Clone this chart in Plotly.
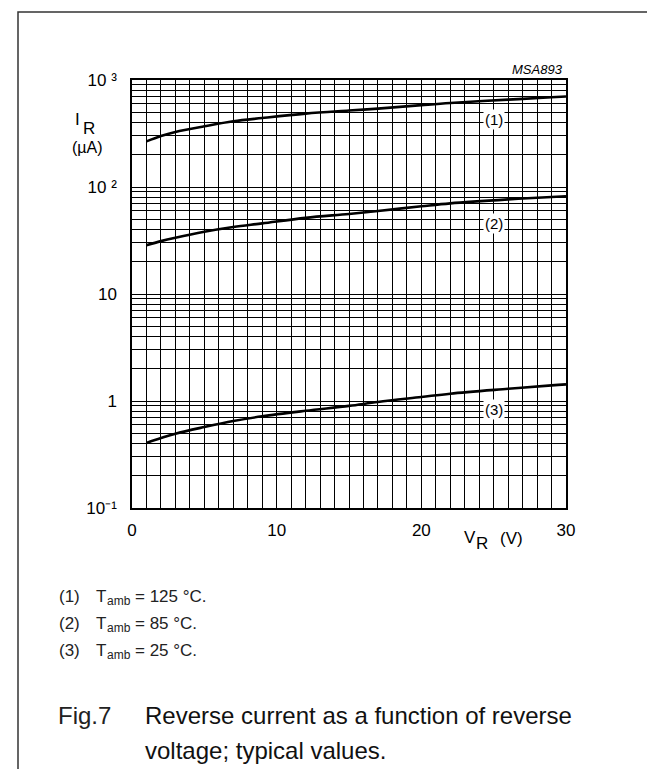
import plotly.graph_objects as go
import math

# ---- data ----
v_r = [1, 2, 3, 5, 7, 9, 12, 15, 17, 20, 22, 26, 29, 30]
i_125 = [267, 300, 327, 369, 411, 441, 485, 518, 540, 582, 610, 655, 689, 700]
i_85 = [28.5, 31.2, 33.6, 38.2, 42.3, 45.7, 51.5, 56, 59.7, 66, 70.3, 76.6, 80.7, 82]
i_25 = [0.405, 0.45, 0.495, 0.571, 0.65, 0.72, 0.81, 0.9, 0.98, 1.09, 1.17, 1.30, 1.40, 1.43]
curve_labels = ["(1)", "(2)", "(3)"]
label_x = [25, 25, 25]
label_y = [432, 45.7, 0.84]
y_tickvals = [0.1, 1, 10, 100, 1000]
y_ticktext = ["10⁻¹", "1", "10", "10 ²", "10 ³"]
x_tickvals = [0, 10, 20, 30]
legend_nums = ["(1)", "(2)", "(3)"]
legend_vals = ["= 125 °C.", "= 85 °C.", "= 25 °C."]

W, H = 655, 769
L, R, T, B = 124, 558, 72, 500
FONT = "Liberation Sans, Arial, sans-serif"


def px(x):
    return (x - L) / (R - L)


def py(y):
    return (B - y) / (B - T)


fig = go.Figure()
for ys in (i_125, i_85, i_25):
    fig.add_trace(go.Scatter(x=v_r, y=ys, mode="lines", line=dict(color="black", width=2.6, shape="spline"),
                             showlegend=False, hoverinfo="skip"))

annotations = []
for t, xv, yv in zip(curve_labels, label_x, label_y):
    annotations.append(dict(x=xv, y=math.log10(yv), xref="x", yref="y", text=t,
                            bgcolor="white", font=dict(size=15), borderpad=1))

# axis titles
annotations += [
    dict(x=px(69), y=py(111), text="I", font=dict(size=17)),
    dict(x=px(81), y=py(120), text="R", font=dict(size=17)),
    dict(x=px(79), y=py(139), text="(µA)", font=dict(size=16)),
    dict(x=px(462), y=py(529), text="V", font=dict(size=17)),
    dict(x=px(474), y=py(535), text="R", font=dict(size=17)),
    dict(x=px(503), y=py(530), text="(V)", font=dict(size=17)),
    dict(x=px(557), y=py(62), text="<i>MSA893</i>", xanchor="right", font=dict(size=13)),
]
for i, (n, v) in enumerate(zip(legend_nums, legend_vals)):
    yy = 588 + i * 27
    annotations.append(dict(x=px(49), y=py(yy), text=n, xanchor="left", font=dict(size=17, color="#222")))
    annotations.append(dict(x=px(86), y=py(yy), text="T", xanchor="left", font=dict(size=17, color="#222")))
    annotations.append(dict(x=px(97), y=py(yy + 5), text="amb", xanchor="left", font=dict(size=12, color="#222")))
    annotations.append(dict(x=px(125), y=py(yy), text=v, xanchor="left", font=dict(size=17, color="#222")))
annotations += [
    dict(x=px(48), y=py(707), text="Fig.7", xanchor="left", font=dict(size=24, color="#222")),
    dict(x=px(135), y=py(707), text="Reverse current as a function of reverse", xanchor="left",
         font=dict(size=24, color="#111")),
    dict(x=px(135), y=py(742), text="voltage; typical values.", xanchor="left", font=dict(size=24, color="#111")),
]
for a in annotations:
    a.setdefault("xref", "paper")
    a.setdefault("yref", "paper")
    a.setdefault("xanchor", "center")
    a.setdefault("yanchor", "middle")
    a.setdefault("showarrow", False)
    a["font"].setdefault("family", FONT)
    a["font"].setdefault("color", "black")

frame = dict(type="path", xref="paper", yref="paper",
             path=f"M {px(10)} {py(769)} L {px(10)} {py(4)} L {px(648)} {py(4)} L {px(648)} {py(769)}",
             line=dict(color="#333", width=1.5))

fig.update_layout(
    width=W, height=H, margin=dict(l=L, r=W - R, t=T, b=H - B, pad=0),
    paper_bgcolor="white", plot_bgcolor="white",
    font=dict(family=FONT, size=17, color="black"),
    annotations=annotations, shapes=[frame],
    xaxis=dict(range=[0, 30], tickvals=x_tickvals, ticks="", showgrid=True, gridcolor="black", gridwidth=1,
               minor=dict(dtick=1, showgrid=True, gridcolor="black", gridwidth=1),
               showline=True, linecolor="black", linewidth=1.5, mirror=True, zeroline=False,
               ticklabelstandoff=6, tickfont=dict(size=17, family=FONT, color="black")),
    yaxis=dict(type="log", range=[-1, 3], tickvals=y_tickvals, ticktext=y_ticktext, ticks="",
               showgrid=True, gridcolor="black", gridwidth=1,
               minor=dict(dtick="D1", showgrid=True, gridcolor="black", gridwidth=1),
               showline=True, linecolor="black", linewidth=1.5, mirror=True, zeroline=False,
               ticklabelstandoff=10, tickfont=dict(size=17, family=FONT, color="black")),
)
fig.write_html("out.html")
